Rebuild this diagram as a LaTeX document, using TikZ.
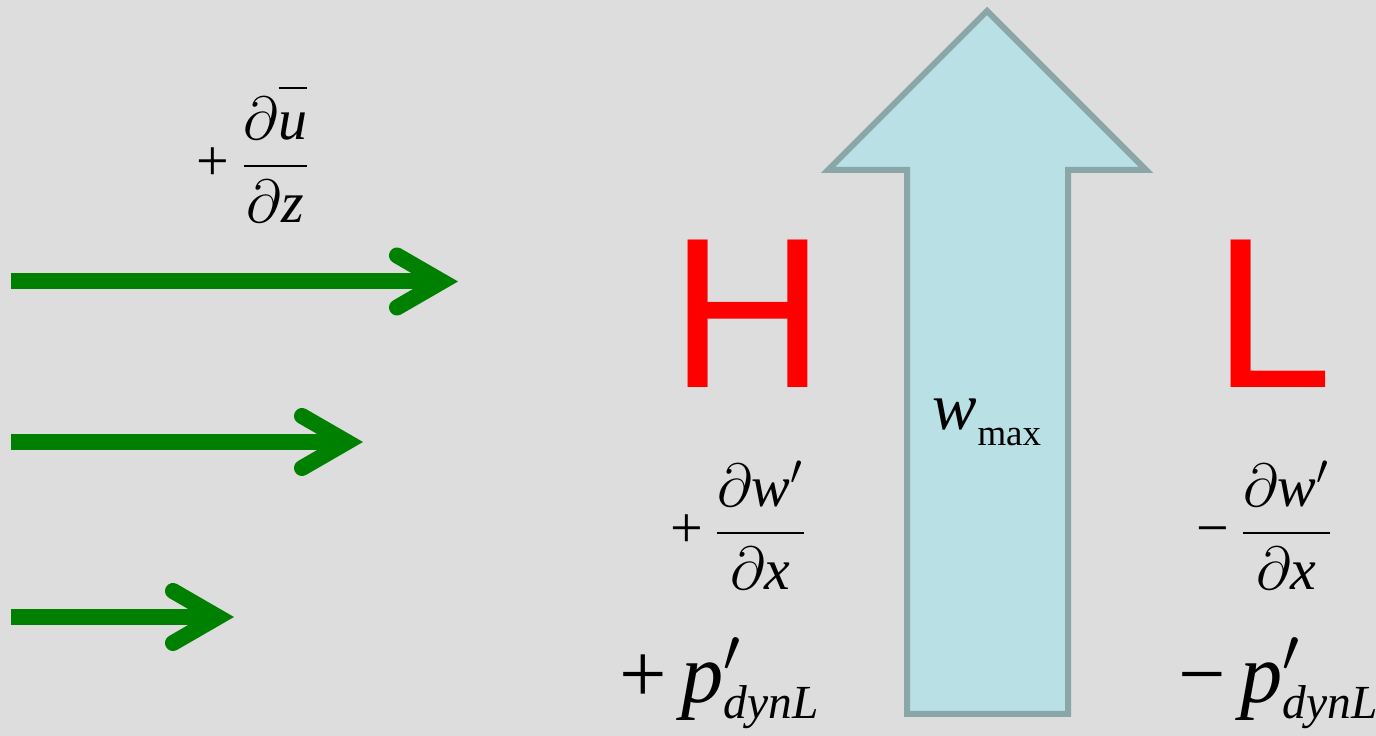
\documentclass[tikz,border=0pt]{standalone}
\usepackage{amsmath}
\usepackage{fontspec}
\setmainfont{Liberation Serif}
\newfontfamily\hlfont{Liberation Sans}
\usepackage{tikz}
\usetikzlibrary{calc}
\usepackage{xcolor}
\definecolor{bggray}{RGB}{221,221,221}
\definecolor{windgreen}{RGB}{0,128,0}
\definecolor{hlred}{RGB}{255,0,0}
\definecolor{upfill}{RGB}{185,224,228}
\definecolor{upedge}{RGB}{138,166,168}
% high bar over the mean wind
\newcommand\highbar[1]{\rlap{\hspace{0.01em}\rule[0.885em]{0.48em}{0.035em}}#1}

\begin{document}
\begin{tikzpicture}
\tikzset{
  windshaft/.style={windgreen, line width=0.16cm, line cap=butt},
  windhead/.style={windgreen, line width=0.16cm, line cap=round, line join=miter},
  updraft/.style={draw=upedge, fill=upfill, line width=0.06cm, line join=miter},
  press/.style={text=hlred, font=\hlfont\fontsize{61}{61}\selectfont, anchor=base, inner sep=0pt},
  term/.style={font=\fontsize{16.5}{20}\selectfont, anchor=base, inner sep=0pt},
  bigterm/.style={font=\fontsize{24}{28}\selectfont, anchor=base, inner sep=0pt}
}
\fill[bggray] (0,0) rectangle (13.76,7.36);
\useasboundingbox (0,0) rectangle (13.76,7.36);

% wind shear arrows
\coordinate (u1w) at (0.11,4.545);
\coordinate (u1e) at (4.42,4.545);
\coordinate (u2w) at (0.11,2.94);
\coordinate (u2e) at (3.47,2.94);
\coordinate (u3w) at (0.11,1.19);
\coordinate (u3e) at (2.18,1.19);
\draw[windshaft] (u1w) -- (u1e);
\draw[windhead] ($(u1e)+(-0.45,0.26)$) -- (u1e) -- ($(u1e)+(-0.45,-0.26)$);
\draw[windshaft] (u2w) -- (u2e);
\draw[windhead] ($(u2e)+(-0.45,0.26)$) -- (u2e) -- ($(u2e)+(-0.45,-0.26)$);
\draw[windshaft] (u3w) -- (u3e);
\draw[windhead] ($(u3e)+(-0.45,0.26)$) -- (u3e) -- ($(u3e)+(-0.45,-0.26)$);

\node[term] (shear) at (2.54,5.55) {$\text{+}\,\dfrac{\partial\text{\itshape\highbar{u}}}{\partial\text{\itshape z}}$};

% updraft
\draw[updraft] (9.07,0.22) -- (9.07,5.66) -- (8.28,5.66) -- (9.87,7.25)
  -- (11.46,5.66) -- (10.68,5.66) -- (10.68,0.22) -- cycle;
\node[anchor=base, inner sep=0pt, font=\fontsize{19}{22}\selectfont] (wmax) at (9.87,3.06)
  {\textit{w}\raisebox{-4.3pt}{\fontsize{10.5}{12}\selectfont max}};

% high and low pressure
\node[press] (high) at (7.48,3.48) {H};
\node[press] (low) at (12.73,3.48) {L};

\node[term] (dwhigh) at (7.39,1.88) {$\text{+}\,\dfrac{\partial\text{\itshape w}'}{\partial\text{\itshape x}}$};
\node[term] (dwlow) at (12.65,1.88) {$\text{−}\,\dfrac{\partial\text{\itshape w}'}{\partial\text{\itshape x}}$};

\node[bigterm] (phigh) at (7.20,0.33) {$\text{+}\,\text{\itshape p}'_{\raisebox{2.2pt}{\fontsize{13.5}{14}\selectfont\itshape dynL}}$};
\node[bigterm] (plow) at (12.79,0.33) {$\text{−}\,\text{\itshape p}'_{\raisebox{2.2pt}{\fontsize{13.5}{14}\selectfont\itshape dynL}}$};
\end{tikzpicture}
\end{document}
